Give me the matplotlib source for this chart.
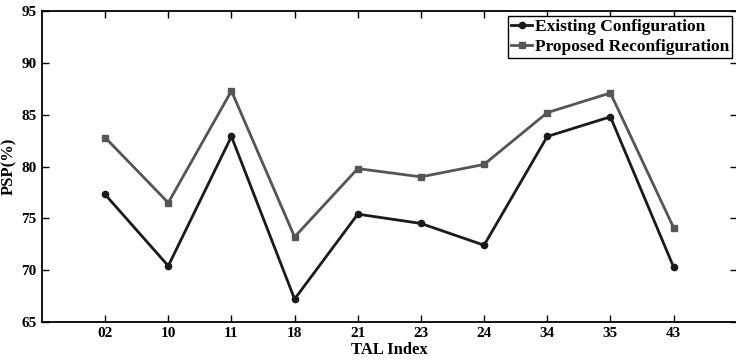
import matplotlib
matplotlib.use("Agg")
import matplotlib.pyplot as plt

categories = ["02", "10", "11", "18", "21", "23", "24", "34", "35", "43"]
existing = [77.3, 70.4, 82.9, 67.2, 75.4, 74.5, 72.4, 82.9, 84.8, 70.3]
proposed = [82.8, 76.5, 87.3, 73.2, 79.8, 79.0, 80.2, 85.2, 87.1, 74.1]
y_ticks = [65, 70, 75, 80, 85, 90, 95]

plt.rcParams["font.family"] = ["Liberation Serif", "DejaVu Serif"]
plt.rcParams["font.weight"] = "bold"

fig = plt.figure(figsize=(7.36, 3.6), dpi=100)
ax = fig.add_axes([0.057, 0.106, 0.944, 0.863])

x = list(range(1, len(categories) + 1))
ax.plot(x, existing, "-o", color="#1a1a1a", linewidth=2.0, markersize=4.5,
        label="Existing Configuration", zorder=3)
ax.plot(x, proposed, "-s", color="#555555", linewidth=2.0, markersize=4.5,
        label="Proposed Reconfiguration", zorder=2)

ax.set_xlim(0, 11)
ax.set_ylim(65, 95)
ax.set_xticks(x)
ax.set_xticklabels(categories)
ax.set_yticks(y_ticks)
ax.tick_params(direction="in", top=True, right=True, length=5, width=1,
               labelsize=11, pad=4)
for lab in ax.get_xticklabels() + ax.get_yticklabels():
    lab.set_fontweight("bold")
for s in ax.spines.values():
    s.set_linewidth(1.3)

ax.set_xlabel("TAL Index", fontsize=12, fontweight="bold", labelpad=1)
ax.set_ylabel("PSP(%)", fontsize=12, fontweight="bold")
ax.yaxis.set_label_coords(-0.036, 0.5)

leg = ax.legend(loc="upper right", frameon=True, fancybox=False,
                handlelength=1.2, handletextpad=0.15, borderpad=0.2,
                labelspacing=0.2, borderaxespad=0.25,
                prop={"weight": "bold", "size": 12.5})
leg.get_frame().set_edgecolor("black")
leg.get_frame().set_linewidth(1.0)
leg.get_frame().set_alpha(1.0)

fig.savefig("out.png", dpi=100)
